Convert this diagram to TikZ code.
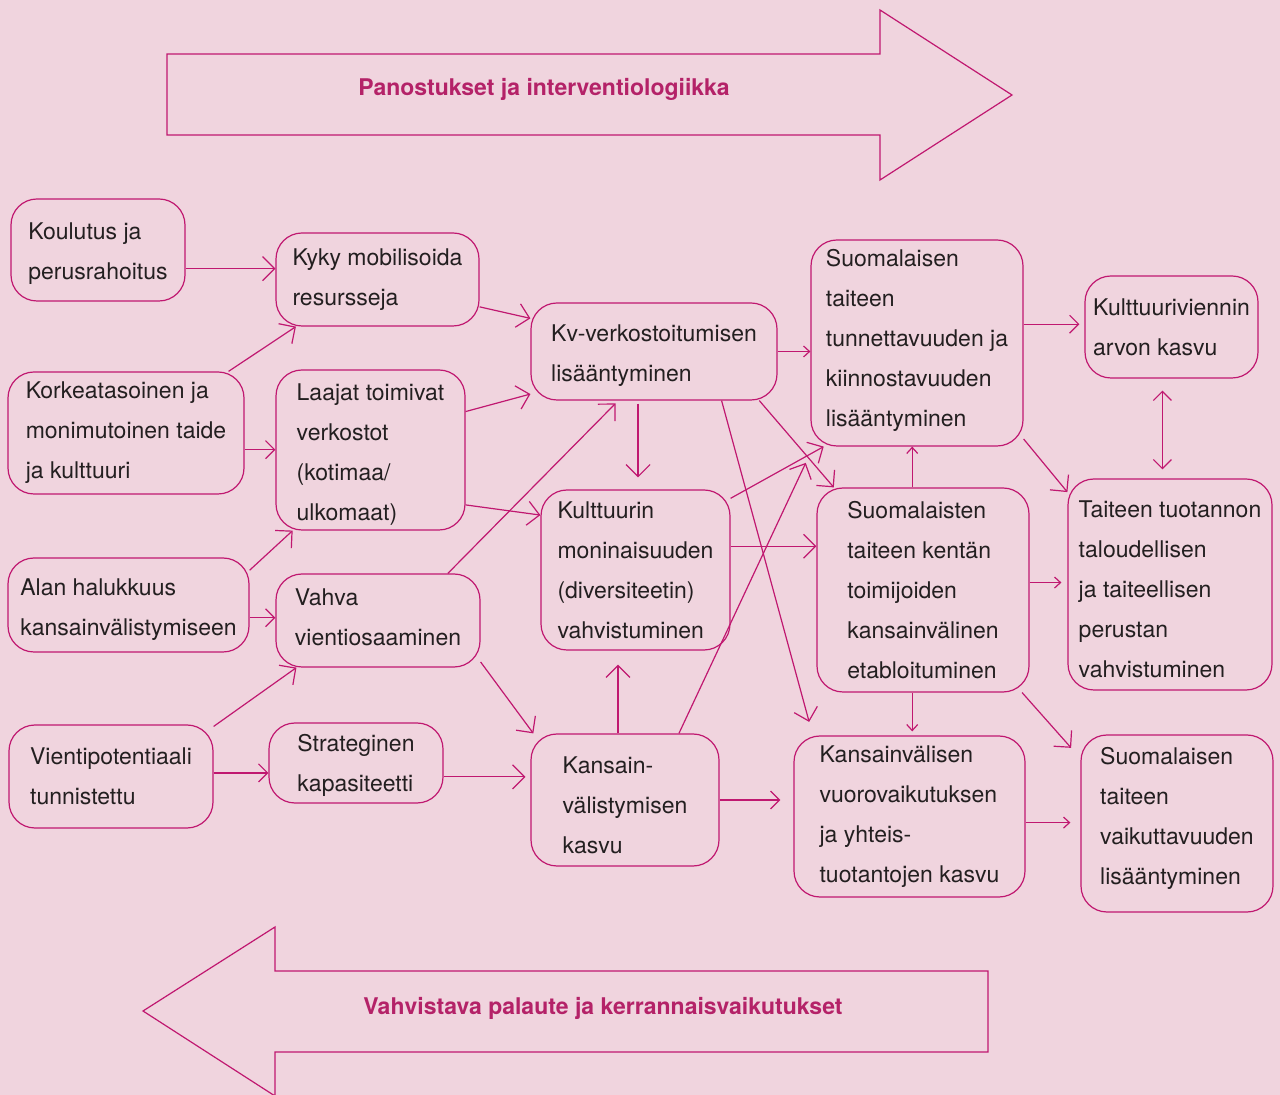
\documentclass[tikz,border=0pt]{standalone}
\usepackage{fontspec}
\setmainfont{TeX Gyre Heros}
\usetikzlibrary{arrows.meta}
\definecolor{bgpink}{RGB}{240,212,222}
\definecolor{linepink}{RGB}{192,24,112}
\definecolor{titlepink}{RGB}{180,34,104}
\definecolor{textdark}{RGB}{35,31,32}
\newcommand{\topgap}[1]{\rule{0pt}{#1}}

\begin{document}
\begin{tikzpicture}[x = .5pt, y = -.5pt,
	box/.style = {draw = linepink, line width = .6pt, rounded corners = 13pt, align = left, text = textdark, font = \fontsize{11.5}{20}\selectfont, inner sep = 0pt},
	lift/.style = {execute at end node = {\rule[-#1]{0pt}{0pt}}},
	link/.style = {draw = linepink, line width = .6pt, -{Straight Barb[length = 6pt, width = 12pt]}},
	midlink/.style = {link, -{Straight Barb[length = 4.5pt, width = 9pt]}},
	smalllink/.style = {link, -{Straight Barb[length = 3pt, width = 5.5pt]}},
	twolink/.style = {link, {Straight Barb[length = 4.5pt, width = 9pt]}-{Straight Barb[length = 4.5pt, width = 9pt]}},
	bigarrow/.style = {draw = linepink, line width = .6pt},
	headline/.style = {text = titlepink, font = \fontsize{11.5}{14}\selectfont\bfseries}]
		\useasboundingbox (0, 0) rectangle (1280, 1095);
		\fill [bgpink] (0, 0) rectangle (1280, 1095);

		\draw [bigarrow] (167, 54) -- (880, 54) -- (880, 10) -- (1012, 95) -- (880, 180) -- (880, 135) -- (167, 135) -- cycle;
		\node [headline] (panostus) at (544, 89) {Panostukset ja interventiologiikka};
		\draw [bigarrow] (988, 971) -- (275, 971) -- (275, 927) -- (143, 1011) -- (275, 1096) -- (275, 1052) -- (988, 1052) -- cycle;
		\node [headline] (palaute) at (603, 1008) {Vahvistava palaute ja kerrannaisvaikutukset};

		\node [box, minimum width = 87pt, minimum height = 51pt] (koulutus) at (98, 250) {\topgap{12.4pt}Koulutus ja\\perusrahoitus};
		\node [box, minimum width = 101.5pt, minimum height = 46.5pt] (kyky) at (377.5, 279.5) {Kyky mobilisoida\\resursseja};
		\node [box, minimum width = 118pt, minimum height = 61pt] (korkea) at (126, 433) {Korkeatasoinen ja\\monimutoinen taide\\ja kulttuuri};
		\node [box, minimum width = 94.5pt, minimum height = 80pt] (laajat) at (370.5, 450) {\topgap{13.4pt}Laajat toimivat\\verkostot\\(kotimaa/\\ulkomaat)};
		\node [box, minimum width = 120.5pt, minimum height = 47pt] (alan) at (128.5, 605) {\topgap{13.4pt}Alan halukkuus\\kansainvälistymiseen};
		\node [box, lift = 3pt, minimum width = 102pt, minimum height = 46.5pt] (vahva) at (378, 620.5) {Vahva\\vientiosaaminen};
		\node [box, minimum width = 102pt, minimum height = 51.5pt] (vientipot) at (111, 776.5) {Vientipotentiaali\\tunnistettu};
		\node [box, minimum width = 87pt, minimum height = 40pt] (strateginen) at (356, 763) {\topgap{11.4pt}Strateginen\\kapasiteetti};
		\node [box, minimum width = 123pt, minimum height = 48.5pt] (kv) at (654, 351.5) {\topgap{12.4pt}Kv-verkostoitumisen\\lisääntyminen};
		\node [box, minimum width = 94.5pt, minimum height = 80pt] (kulttuuri) at (635.5, 570) {Kulttuurin\\moninaisuuden\\(diversiteetin)\\vahvistuminen};
		\node [box, minimum width = 94pt, minimum height = 66pt] (kansain) at (625, 800) {\topgap{13.4pt}Kansain-\\välistymisen\\kasvu};
		\node [box, lift = 5.4pt, minimum width = 106pt, minimum height = 103pt] (suomtait) at (917, 343) {Suomalaisen\\taiteen\\tunnettavuuden ja\\kiinnostavuuden\\lisääntyminen};
		\node [box, minimum width = 106pt, minimum height = 102pt] (etabl) at (923, 590) {Suomalaisten\\taiteen kentän\\toimijoiden\\kansainvälinen\\etabloituminen};
		\node [box, minimum width = 115.5pt, minimum height = 80.5pt] (vuorov) at (909.5, 816.5) {Kansainvälisen\\vuorovaikutuksen\\ja yhteis-\\tuotantojen kasvu};
		\node [box, minimum width = 86.5pt, minimum height = 51pt] (arvo) at (1171.5, 327) {Kulttuuriviennin\\arvon kasvu};
		\node [box, minimum width = 102pt, minimum height = 105.5pt] (perusta) at (1170, 584.5) {\topgap{13.4pt}Taiteen tuotannon\\taloudellisen\\ja taiteellisen\\perustan\\vahvistuminen};
		\node [box, lift = 7.4pt, minimum width = 96pt, minimum height = 88.5pt] (vaikutt) at (1177, 823.5) {Suomalaisen\\taiteen\\vaikuttavuuden\\lisääntyminen};

		\draw [link] (koulutus.-12) -- (koulutus.-12 -| kyky.west);
		\draw [link] (korkea.31) -- (kyky.-150);
		\draw [link] (kyky.-15) -- (kv.165);
		\draw [midlink] (korkea.-8) -- (korkea.-8 -| laajat.west);
		\draw [link] (laajat.22) -- (kv.-161);
		\draw [link] (laajat.-30) -- (kulttuuri.150);
		\draw [link] (alan.16) -- (laajat.-134);
		\draw [midlink] (alan.-6) -- (alan.-6 -| vahva.west);
		\draw [link, shorten > = 2pt] (vahva.34) -- (kv.-126);
		\draw [link] (vientipot.26) -- (vahva.-150);
		\draw [midlink] (vientipot.2) -- (vientipot.2 -| strateginen.west);
		\draw [link, shorten > = 2.5pt] (strateginen.-9) -- (strateginen.-9 -| kansain.west);
		\draw [link] (vahva.-22) -- (kansain.144);
		\draw [link, shorten < = 1.5pt, shorten > = 6pt] (kv.-108) -- (kv.-108 |- kulttuuri.north);
		\draw [link, shorten > = 7pt] (kansain.96) -- (kansain.96 |- kulttuuri.south);
		\draw [smalllink] (kv.east) -- (kv.east -| suomtait.west);
		\draw [link] (kv.-25) -- (etabl.131);
		\draw [link, shorten > = 7pt] (kv.-36) -- (vuorov.140);
		\draw [link] (kulttuuri.37) -- (suomtait.-132);
		\draw [link, shorten > = 9pt] (kansain.51) -- (suomtait.-135);
		\draw [link] (kulttuuri.14) -- (kulttuuri.14 -| etabl.west);
		\draw [smalllink] (etabl.96) -- (etabl.96 |- suomtait.south);
		\draw [smalllink, shorten > = 2pt] (etabl.-96) -- (etabl.-96 |- vuorov.north);
		\draw [midlink, shorten > = 2.5pt] (suomtait.10) -- (suomtait.10 -| arvo.west);
		\draw [link] (suomtait.-42) -- (perusta.138);
		\draw [twolink, shorten < = 6pt, shorten > = 4.5pt] (arvo.-100) -- (arvo.-100 |- perusta.north);
		\draw [smalllink, shorten > = 3pt] (etabl.4) -- (etabl.4 -| perusta.west);
		\draw [link, shorten > = 7pt] (etabl.-46) -- (vaikutt.146);
		\draw [midlink, shorten > = 6.5pt] (kansain.east) -- (kansain.east -| vuorov.west);
		\draw [smalllink, shorten > = 5pt] (vuorov.-3) -- (vuorov.-3 -| vaikutt.west);
	\end{tikzpicture}
\end{document}
